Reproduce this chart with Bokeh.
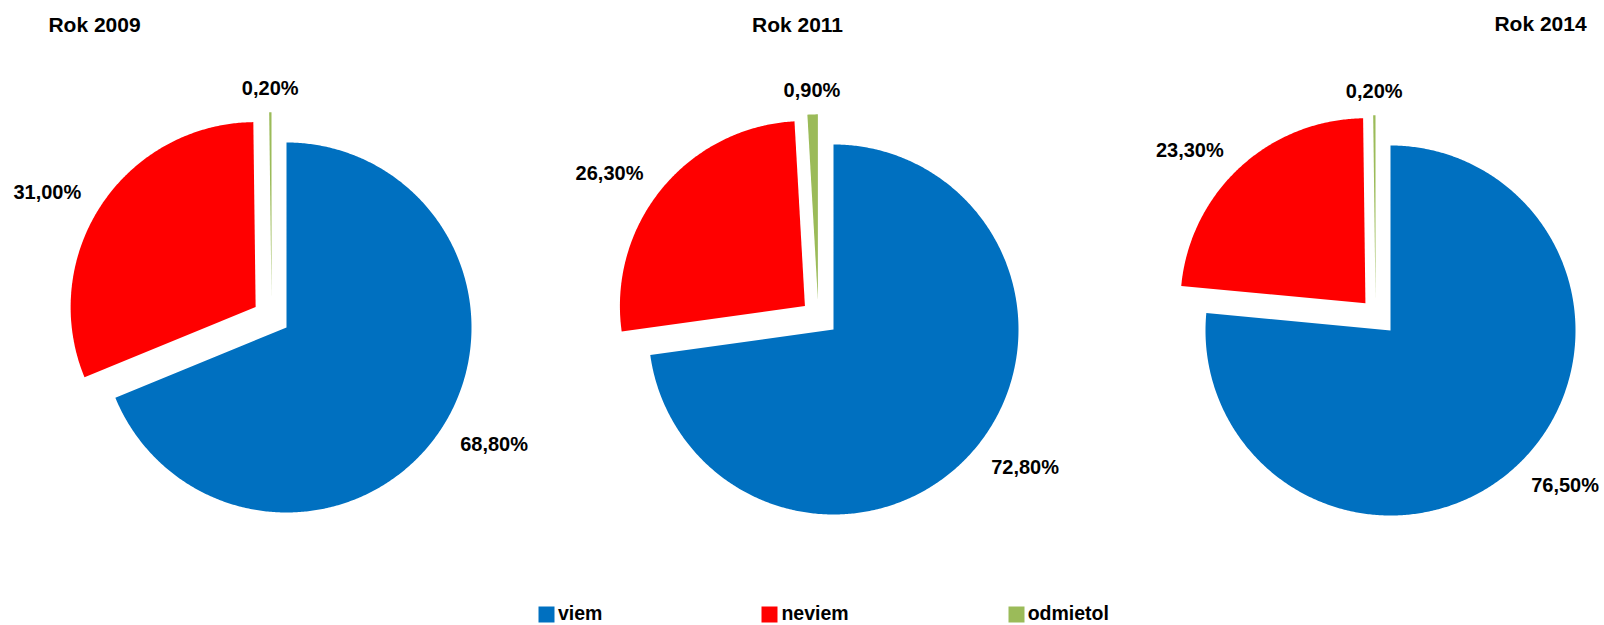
import numpy as np
from bokeh.plotting import figure
from bokeh.models import Range1d, Legend, LegendItem
from bokeh.core.properties import value
from bokeh.embed import file_html
from bokeh.resources import INLINE

# ---- data ----
years = ["Rok 2009", "Rok 2011", "Rok 2014"]
categories = ["viem", "neviem", "odmietol"]
viem = [68.8, 72.8, 76.5]
neviem = [31.0, 26.3, 23.3]
odmietol = [0.2, 0.9, 0.2]
series = [viem, neviem, odmietol]

# ---- style / layout ----
colors = ["#0070C0", "#FF0000", "#9BBB59"]
W, H = 1604, 625
centers = [(286, 327), (833, 329), (1390, 330)]
title_pos = [(94, 24), (797, 24), (1540, 23)]
R = 185
explode = [0.0, 0.2, 0.163]          # along bisector, in radius units
extra_dx = [0.0, 0.0, -0.08]         # extra horizontal shift, radius units
LABEL_K = 1.13

p = figure(width=W, height=H, x_range=Range1d(0, W), y_range=Range1d(H, 0),
           output_backend="svg", toolbar_location=None, min_border=0)
p.axis.visible = False
p.grid.visible = False
p.outline_line_color = None
p.background_fill_color = "white"

lab_groups = {"left": ([], [], []), "right": ([], [], []), "center": ([], [], [])}
renderers = []
for ci, cat in enumerate(categories):
    xs, ys = [], []
    for pi in range(len(years)):
        vals = [s[pi] for s in series]
        total = sum(vals)
        start = sum(vals[:ci]) / total * 2 * np.pi
        end = sum(vals[:ci + 1]) / total * 2 * np.pi
        mid = (start + end) / 2
        cx, cy = centers[pi]
        ox = explode[ci] * np.sin(mid) + extra_dx[ci]
        oy = -explode[ci] * np.cos(mid)
        n = max(3, int(np.degrees(end - start) * 2) + 2)
        t = np.linspace(start, end, n)
        px = np.concatenate([[ox], ox + np.sin(t), [ox]])
        py = np.concatenate([[oy], oy - np.cos(t), [oy]])
        xs.append(list(cx + R * px))
        ys.append(list(cy + R * py))
        lx = cx + R * (ox + LABEL_K * np.sin(mid))
        ly = cy + R * (oy - LABEL_K * np.cos(mid))
        s = np.sin(mid)
        align = "left" if s > 0.2 else ("right" if s < -0.2 else "center")
        txt = f"{vals[ci]:.2f}".replace(".", ",") + "%"
        g = lab_groups[align]
        g[0].append(lx); g[1].append(ly); g[2].append(txt)
    r = p.patches(xs, ys, fill_color=colors[ci], line_color=None)
    renderers.append(r)

for align, (lx, ly, lt) in lab_groups.items():
    if lx:
        p.text(x=lx, y=ly, text=lt, text_align=align, text_baseline="middle",
               text_font=value("Liberation Sans"), text_font_style="bold",
               text_font_size="20px", text_color="black")

tx = [t[0] for t in title_pos]
ty = [t[1] for t in title_pos]
p.text(x=tx, y=ty, text=years, text_align="center", text_baseline="middle",
       text_font=value("Liberation Sans"), text_font_style="bold",
       text_font_size="21px", text_color="black")

legend = Legend(items=[LegendItem(label=c, renderers=[r]) for c, r in zip(categories, renderers)],
                orientation="horizontal", location=(536, 0), spacing=157,
                glyph_width=20, glyph_height=20, label_standoff=2, label_height=20,
                padding=0, margin=0, border_line_color=None, background_fill_alpha=0,
                label_text_font="Liberation Sans", label_text_font_style="bold",
                label_text_font_size="19.5px", label_text_color="black")
p.add_layout(legend)

open("out.html", "w").write(file_html(p, INLINE))
